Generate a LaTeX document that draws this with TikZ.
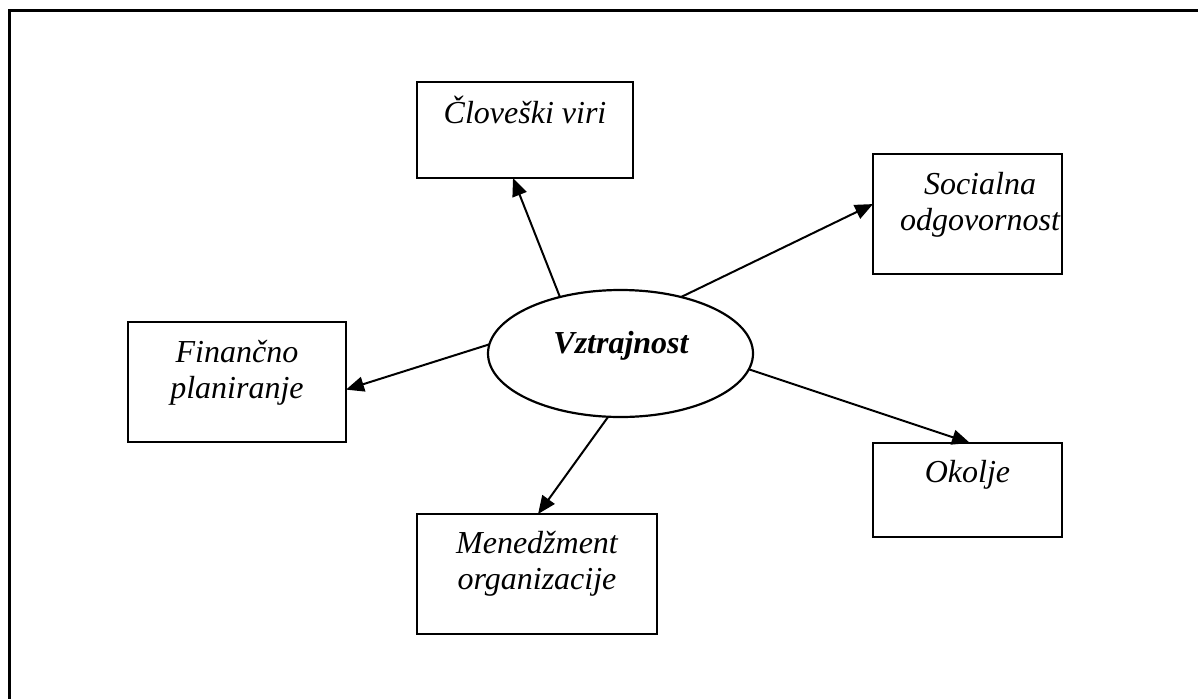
\documentclass[tikz,border=0pt]{standalone}
\usepackage{fontspec}
\setmainfont{Liberation Serif}
\usetikzlibrary{arrows.meta,shapes.geometric}
\begin{document}
\begin{tikzpicture}[x=1pt,y=-1pt,
  box/.style={draw,line width=2.2pt,inner sep=0pt,outer sep=0pt,align=center,
    font=\fontsize{32}{36}\selectfont\itshape},
  arr/.style={line width=2pt,-{Triangle[length=18pt,width=15pt]}},
  frame/.style={line width=3pt}]
\useasboundingbox (0,0) rectangle (1198,699);
\draw[frame] (1198,10) -- (9,10) -- (9,699);
\node[box,minimum width=216pt,text height=41pt,text depth=55pt] (cv) at (525,130) {Človeški viri};
\node[box,minimum width=189pt,text height=76pt,text depth=44pt] (so) at (967.5,214) {\hspace*{25pt}Socialna\\\hspace*{25pt}odgovornost};
\node[box,minimum width=218pt,text height=76pt,text depth=44pt] (fp) at (237,382) {Finančno\\planiranje};
\node[box,minimum width=189pt,text height=39pt,text depth=55pt] (ok) at (967.5,490) {Okolje};
\node[box,minimum width=240pt,text height=75pt,text depth=45pt] (mo) at (537,574) {Menedžment\\organizacije};
\node[draw,ellipse,line width=2.2pt,minimum width=265pt,minimum height=127pt,inner sep=0pt,outer sep=0pt] (v) at (620.5,353.5) {};
\node[font=\fontsize{32}{36}\selectfont\bfseries\itshape,anchor=base,inner sep=0pt] (vt) at (621,353) {Vztrajnost};
\draw[arr] (v.137) -- (cv.256);
\draw[arr] (v.43.5) -- (so.174.6);
\draw[arr] (v.176.3) -- (fp.-4.2);
\draw[arr] (v.-7.1) -- (ok.87);
\draw[arr] (v.259) -- (mo.89);
\end{tikzpicture}
\end{document}
